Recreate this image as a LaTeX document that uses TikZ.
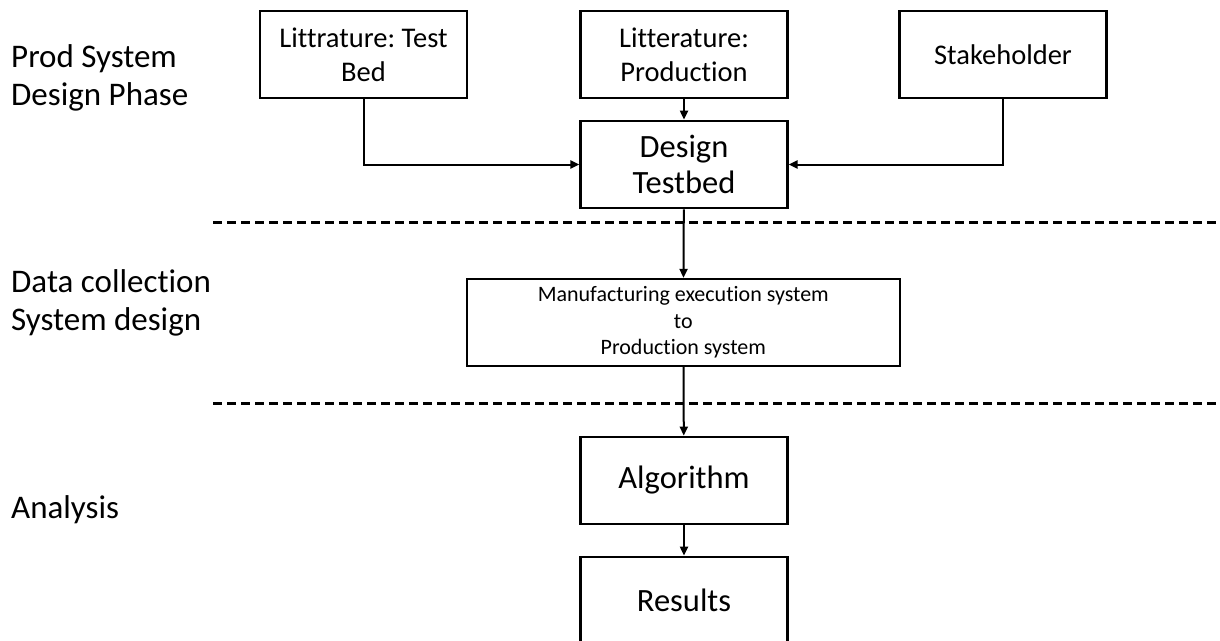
\documentclass[tikz,border=0pt]{standalone}
\usepackage{fontspec}
\setmainfont{Carlito}[Ligatures=NoCommon]
\frenchspacing
\usetikzlibrary{arrows.meta}

\tikzset{
	box/.style={draw, line width=2.2pt, minimum width=207pt, minimum height=87.6pt, align=center, inner sep=2pt},
	smallbox/.style={box, font=\fontsize{28.5}{34}\selectfont},
	bigbox/.style={box, font=\fontsize{32.5}{36}\selectfont},
	flow/.style={line width=2pt, -{Triangle[length=9pt,width=8pt]}},
	phase/.style={line width=3pt, dash pattern=on 9pt off 5pt},
	phaselabel/.style={anchor=west, align=left, inner sep=0pt, font=\fontsize{33}{38}\selectfont},
}

\begin{document}
\begin{tikzpicture}[x=1pt,y=-1pt]
\useasboundingbox (0,0) rectangle (1220,640);

\foreach \y/\ytext [count=\i] in {78/{Prod System\\Design Phase},303/{Data collection\\System design},510/Analysis}
{
	\node[phaselabel] (phase\i) at (11,\y) {\ytext};
}

\foreach \y [count=\i] in {222.7,403}
{
	\draw[phase] (213,\y) coordinate (cut\i) -- (1220,\y) coordinate (cutend\i);
}

\node[smallbox] (littest) at (363.5,54.5) {Littrature: Test\\Bed};
\node[smallbox] (litprod) at (684,54.5) {Litterature:\\Production};
\node[smallbox] (stake) at (1003,54.5) {Stakeholder};
\node[bigbox] (design) at (684,164.5) {Design\\Testbed};
\node[box, font=\fontsize{22}{26.5}\selectfont, minimum width=433pt, minimum height=86.7pt] (mes) at (683.3,322.3) {Manufacturing execution system\\to\\Production system};
\node[bigbox] (algo) at (684,480.5) {Algorithm};
\node[bigbox] (results) at (684,600.5) {Results};

\draw[flow] (littest.south) |- (design.west);
\draw[flow] (stake.south) |- (design.east);
\draw[flow] (litprod) -- (design);
\draw[flow] (design) -- (mes);
\draw[flow] (mes) -- (algo);
\draw[flow] (algo) -- (results);

\end{tikzpicture}
\end{document}
